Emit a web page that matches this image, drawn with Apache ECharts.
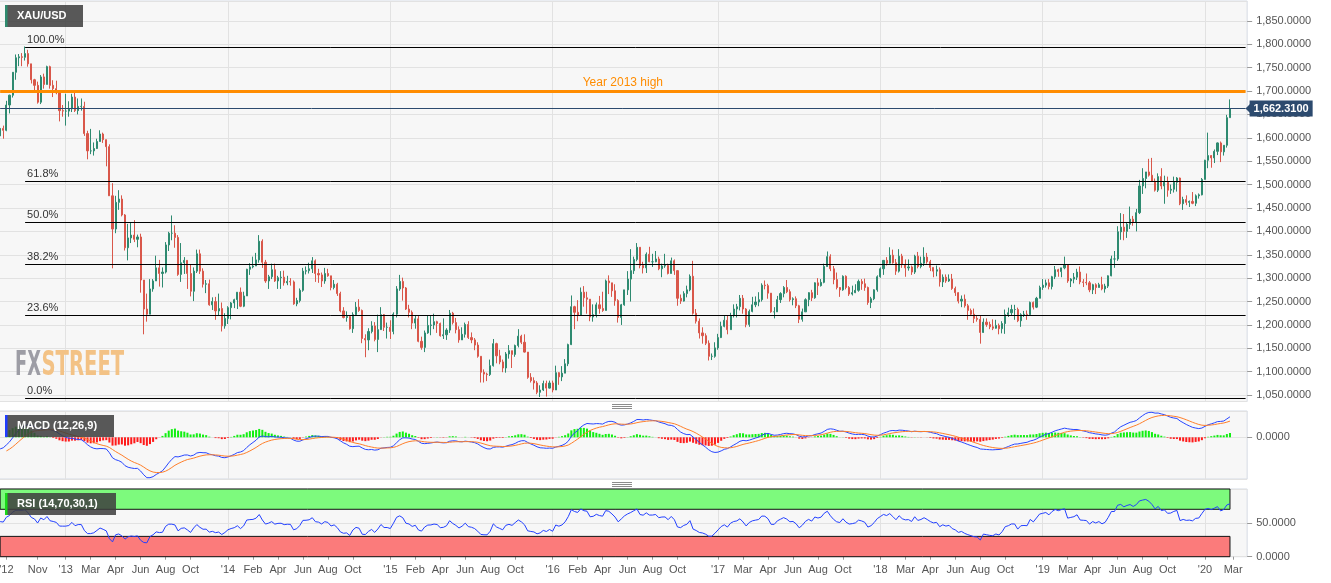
<!DOCTYPE html>
<html>
<head>
<meta charset="utf-8">
<title>XAU/USD weekly</title>
<script src="https://cdn.jsdelivr.net/npm/echarts@6/dist/echarts.min.js"></script>
<style>
html, body { margin: 0; padding: 0; background: #fff; }
#chart { width: 1331px; height: 583px; }
</style>
</head>
<body>
<div id="chart"></div>
<script>
// weekly closes Jan..Jul 2012, only used to warm up MACD / RSI
const warmupCloses = [1617, 1631, 1665, 1737, 1725, 1724, 1735, 1775, 1710, 1712, 1657, 1662, 1668, 1640, 1658, 1642,
  1663, 1643, 1580, 1592, 1572, 1622, 1591, 1627, 1572, 1598, 1579, 1590, 1582, 1619, 1604]

// weekly candles, first week = 6 Aug 2012, last = 24 Feb 2020 (open = previous close)
const closes = [
  1620, 1616, 1670, 1691, 1740, 1771, 1773, 1772, 1780, 1758, 1724, 1712, 1676, 1730, 1714, 1752, 1712, 1705, 1696, 1658, 1657,
  1657, 1662, 1687, 1658, 1667, 1667, 1609, 1572, 1572, 1577, 1592, 1608, 1596, 1581, 1476, 1405, 1462, 1469, 1435, 1365, 1386, 1392, 1383, 1388, 1296, 1234, 1223, 1277, 1294, 1322, 1310, 1313, 1371, 1396, 1396, 1387, 1308, 1333, 1338, 1310, 1272, 1315, 1352, 1315, 1287, 1288, 1243, 1250, 1230, 1235, 1198, 1214,
  1237, 1247, 1254, 1270, 1240, 1262, 1319, 1324, 1326, 1339, 1379, 1334, 1294, 1303, 1318, 1294, 1301, 1302, 1290, 1293, 1292, 1245, 1252, 1274, 1315, 1316, 1320, 1337, 1310, 1307, 1294, 1310, 1305, 1280, 1287, 1267, 1230, 1216, 1218, 1192, 1222, 1238, 1231, 1171, 1168, 1186, 1198, 1169, 1190, 1222, 1195, 1195,
  1186, 1223, 1277, 1293, 1279, 1234, 1227, 1204, 1213, 1165, 1152, 1183, 1199, 1200, 1207, 1203, 1177, 1179, 1189, 1225, 1205, 1190, 1168, 1180, 1201, 1173, 1168, 1157, 1133, 1099, 1095, 1094, 1113, 1160, 1134, 1121, 1108, 1138, 1145, 1137, 1156, 1176, 1163, 1142, 1088, 1081, 1076, 1056, 1061, 1075, 1065, 1076,
  1061, 1098, 1089, 1097, 1117, 1158, 1239, 1227, 1221, 1270, 1258, 1255, 1217, 1222, 1243, 1235, 1231, 1294, 1290, 1273, 1252, 1216, 1243, 1275, 1298, 1316, 1340, 1366, 1327, 1322, 1351, 1335, 1335, 1341, 1320, 1326, 1327, 1310, 1337, 1316, 1257, 1251, 1267, 1275, 1304, 1225, 1208, 1183, 1177, 1161, 1133, 1133, 1151,
  1173, 1197, 1210, 1190, 1220, 1234, 1239, 1257, 1234, 1201, 1229, 1243, 1249, 1254, 1285, 1284, 1268, 1228, 1228, 1254, 1267, 1280, 1271, 1254, 1256, 1241, 1212, 1228, 1254, 1269, 1258, 1290, 1284, 1291, 1325, 1346, 1320, 1297, 1280, 1275, 1304, 1280, 1266, 1269, 1274, 1293, 1288, 1280, 1248, 1256, 1275, 1303,
  1320, 1338, 1332, 1349, 1333, 1315, 1347, 1329, 1322, 1324, 1313, 1347, 1325, 1332, 1345, 1335, 1323, 1315, 1318, 1292, 1302, 1294, 1298, 1278, 1269, 1251, 1255, 1241, 1231, 1223, 1214, 1212, 1184, 1206, 1201, 1196, 1193, 1199, 1192, 1203, 1222, 1226, 1233, 1233, 1209, 1222, 1223, 1222, 1248, 1238, 1257, 1280,
  1285, 1290, 1282, 1303, 1318, 1314, 1322, 1328, 1294, 1298, 1302, 1313, 1292, 1291, 1290, 1275, 1286, 1280, 1286, 1277, 1283, 1305, 1341, 1341, 1399, 1409, 1400, 1415, 1426, 1419, 1440, 1497, 1513, 1527, 1520, 1507, 1488, 1517, 1497, 1505, 1488, 1490, 1505, 1514, 1459, 1468, 1462, 1464, 1460, 1476, 1478, 1511,
  1552, 1562, 1557, 1571, 1589, 1570, 1584, 1643, 1662.31
]
const highs = [
  1625, 1626, 1679, 1692, 1740, 1778, 1779, 1781, 1795, 1788, 1757, 1726, 1720, 1734, 1737, 1754, 1754, 1723, 1722, 1697, 1670,
  1694, 1678, 1694, 1696, 1684, 1684, 1677, 1615, 1619, 1590, 1598, 1616, 1611, 1588, 1586, 1503, 1476, 1488, 1477, 1437, 1416, 1419, 1424, 1393, 1395, 1292, 1267, 1298, 1298, 1348, 1339, 1323, 1377, 1399, 1434, 1413, 1392, 1375, 1345, 1338, 1329, 1323, 1361, 1361, 1321, 1296, 1297, 1259, 1260, 1267, 1248, 1225,
  1240, 1249, 1256, 1270, 1280, 1271, 1320, 1332, 1346, 1354, 1392, 1383, 1339, 1307, 1331, 1331, 1305, 1315, 1316, 1305, 1300, 1295, 1258, 1278, 1322, 1325, 1333, 1345, 1340, 1320, 1312, 1322, 1320, 1305, 1296, 1290, 1271, 1238, 1229, 1220, 1227, 1249, 1255, 1233, 1180, 1193, 1208, 1206, 1222, 1238, 1223, 1205,
  1210, 1227, 1283, 1307, 1301, 1281, 1243, 1231, 1220, 1219, 1175, 1188, 1220, 1220, 1224, 1209, 1205, 1214, 1193, 1232, 1228, 1215, 1197, 1195, 1205, 1208, 1184, 1172, 1163, 1131, 1105, 1098, 1126, 1170, 1162, 1147, 1126, 1142, 1157, 1142, 1158, 1191, 1179, 1180, 1142, 1097, 1088, 1080, 1071, 1081, 1081, 1081,
  1081, 1113, 1099, 1112, 1127, 1160, 1263, 1241, 1253, 1280, 1283, 1271, 1250, 1244, 1248, 1262, 1271, 1297, 1306, 1279, 1287, 1255, 1245, 1275, 1315, 1362, 1346, 1375, 1358, 1335, 1355, 1367, 1352, 1358, 1346, 1331, 1352, 1331, 1344, 1340, 1317, 1265, 1272, 1284, 1308, 1337, 1234, 1214, 1195, 1182, 1167, 1139, 1163,
  1181, 1207, 1219, 1220, 1226, 1244, 1245, 1264, 1264, 1236, 1233, 1260, 1261, 1270, 1289, 1295, 1288, 1268, 1238, 1262, 1270, 1283, 1296, 1276, 1259, 1261, 1243, 1235, 1257, 1270, 1275, 1291, 1300, 1298, 1331, 1357, 1351, 1326, 1312, 1281, 1306, 1306, 1283, 1284, 1287, 1297, 1298, 1299, 1282, 1260, 1276, 1306,
  1323, 1338, 1345, 1366, 1361, 1341, 1362, 1352, 1340, 1340, 1327, 1350, 1356, 1346, 1366, 1354, 1339, 1322, 1327, 1323, 1308, 1308, 1308, 1309, 1282, 1270, 1263, 1265, 1245, 1235, 1235, 1219, 1221, 1214, 1214, 1207, 1212, 1211, 1203, 1208, 1233, 1237, 1243, 1243, 1237, 1225, 1230, 1231, 1250, 1250, 1260, 1284,
  1298, 1297, 1298, 1305, 1326, 1320, 1322, 1346, 1330, 1300, 1311, 1320, 1325, 1298, 1310, 1294, 1288, 1289, 1290, 1303, 1288, 1306, 1348, 1358, 1411, 1439, 1437, 1419, 1453, 1433, 1448, 1510, 1535, 1527, 1555, 1557, 1513, 1524, 1535, 1519, 1517, 1500, 1517, 1516, 1515, 1474, 1477, 1466, 1484, 1479, 1481, 1514,
  1553, 1611, 1563, 1575, 1590, 1592, 1584, 1649, 1682
]
const lows = [
  1597, 1598, 1614, 1652, 1686, 1724, 1753, 1753, 1765, 1752, 1716, 1699, 1673, 1672, 1705, 1714, 1705, 1687, 1693, 1635, 1645,
  1626, 1645, 1655, 1655, 1650, 1658, 1604, 1554, 1565, 1562, 1576, 1594, 1589, 1539, 1476, 1321, 1396, 1446, 1432, 1359, 1338, 1375, 1377, 1366, 1269, 1180, 1207, 1226, 1271, 1306, 1282, 1280, 1310, 1358, 1381, 1365, 1305, 1292, 1309, 1277, 1261, 1251, 1311, 1309, 1280, 1268, 1241, 1232, 1211, 1221, 1186, 1192,
  1202, 1212, 1236, 1234, 1238, 1238, 1262, 1307, 1321, 1332, 1333, 1322, 1290, 1277, 1298, 1292, 1277, 1277, 1284, 1285, 1284, 1243, 1240, 1248, 1271, 1308, 1310, 1311, 1292, 1290, 1281, 1288, 1303, 1274, 1276, 1262, 1227, 1214, 1207, 1190, 1183, 1219, 1228, 1161, 1131, 1146, 1182, 1165, 1142, 1194, 1187, 1171,
  1170, 1180, 1216, 1273, 1252, 1232, 1216, 1191, 1192, 1163, 1147, 1142, 1181, 1178, 1191, 1183, 1175, 1170, 1168, 1183, 1201, 1182, 1162, 1171, 1173, 1170, 1161, 1146, 1130, 1077, 1077, 1080, 1091, 1111, 1118, 1116, 1099, 1098, 1128, 1108, 1132, 1152, 1159, 1141, 1085, 1077, 1062, 1052, 1046, 1059, 1047, 1064,
  1056, 1062, 1072, 1080, 1097, 1112, 1157, 1191, 1208, 1221, 1239, 1224, 1208, 1207, 1216, 1224, 1228, 1231, 1266, 1260, 1241, 1205, 1200, 1241, 1264, 1250, 1309, 1336, 1321, 1310, 1311, 1334, 1324, 1334, 1317, 1302, 1322, 1308, 1310, 1307, 1241, 1245, 1250, 1259, 1272, 1222, 1203, 1171, 1160, 1157, 1124, 1125, 1130,
  1147, 1172, 1195, 1180, 1191, 1216, 1216, 1231, 1224, 1195, 1196, 1227, 1238, 1240, 1250, 1276, 1256, 1226, 1214, 1228, 1247, 1259, 1268, 1250, 1242, 1236, 1204, 1207, 1230, 1240, 1251, 1256, 1264, 1282, 1289, 1324, 1315, 1287, 1276, 1260, 1273, 1276, 1262, 1263, 1268, 1271, 1275, 1273, 1243, 1236, 1253, 1271,
  1301, 1307, 1327, 1331, 1331, 1307, 1312, 1322, 1303, 1316, 1307, 1309, 1321, 1321, 1326, 1331, 1315, 1302, 1304, 1282, 1281, 1290, 1292, 1275, 1262, 1246, 1238, 1237, 1211, 1219, 1204, 1207, 1160, 1183, 1196, 1191, 1189, 1192, 1180, 1182, 1181, 1217, 1221, 1211, 1206, 1196, 1217, 1211, 1227, 1233, 1236, 1257,
  1275, 1280, 1276, 1276, 1298, 1303, 1302, 1319, 1290, 1281, 1289, 1296, 1287, 1281, 1285, 1270, 1266, 1266, 1280, 1274, 1269, 1279, 1304, 1322, 1337, 1382, 1381, 1386, 1405, 1412, 1400, 1437, 1480, 1492, 1517, 1506, 1485, 1484, 1490, 1459, 1474, 1480, 1483, 1485, 1456, 1446, 1456, 1452, 1458, 1454, 1470, 1477,
  1516, 1535, 1536, 1546, 1563, 1548, 1562, 1579, 1643
]

const lastPrice = 1662.31
const yearHigh2013 = 1699
const fibHigh = 1794
const fibLow = 1043
const fibLevels = [0, 23.6, 38.2, 50, 61.8, 100]
const fibStartWeek = 8

const yearWeeks = [21, 73, 125, 177, 230, 282, 334, 386]
const tickWeeks = [2, 12, 21, 29, 37, 45, 53, 61, 73, 81, 89, 97, 105, 113, 125, 133, 141, 149, 157, 165, 177, 185, 193, 201, 209, 217,
  230, 238, 246, 254, 262, 270, 282, 290, 298, 306, 314, 322, 334, 342, 350, 358, 366, 374, 386, 395]
const tickLabels = ["'12", 'Nov', "'13", 'Mar', 'Apr', 'Jun', 'Aug', 'Oct', "'14", 'Feb', 'Apr', 'Jun', 'Aug', 'Oct',
  "'15", 'Feb', 'Apr', 'Jun', 'Aug', 'Oct', "'16", 'Feb', 'Apr', 'Jun', 'Aug', 'Oct', "'17", 'Mar', 'Apr', 'Jun', 'Aug', 'Oct',
  "'18", 'Mar', 'Apr', 'Jun', 'Aug', 'Oct', "'19", 'Mar', 'Apr', 'Jun', 'Aug', 'Oct', "'20", 'Mar']

const UP = '#2e8a70'
const DOWN = '#d9574a'
const FONT = '"Liberation Sans", Arial, sans-serif'

// category axis: one slot per week, a few empty weeks on the right
const weekCount = 400
const startWeek = Date.UTC(2012, 7, 6)
const weeks = []
for (let i = 0; i < weekCount; i++) {
  weeks.push(new Date(startWeek + i * 7 * 864e5).toISOString().slice(0, 10))
}

const fmt = v => Number(v).toLocaleString('en-US', { minimumFractionDigits: 4, maximumFractionDigits: 4 })

const full = warmupCloses.concat(closes)
const off = warmupCloses.length
const candles = closes.map((c, i) => {
  const o = full[off + i - 1]
  return [o, c, Math.min(lows[i], o, c), Math.max(highs[i], o, c)]
})

const ema = (src, n) => {
  const out = new Array(src.length).fill(null)
  const first = src.findIndex(v => v != null)
  if (first < 0 || first + n > src.length) return out
  let sum = 0
  for (let i = first; i < first + n; i++) sum += src[i]
  let prev = sum / n
  out[first + n - 1] = prev
  const k = 2 / (n + 1)
  for (let i = first + n; i < src.length; i++) {
    prev = src[i] * k + prev * (1 - k)
    out[i] = prev
  }
  return out
}
const rsiCalc = (src, n) => {
  const out = new Array(src.length).fill(null)
  let gain = 0; let loss = 0
  for (let i = 1; i <= n; i++) {
    const d = src[i] - src[i - 1]
    if (d > 0) gain += d; else loss -= d
  }
  gain /= n; loss /= n
  out[n] = loss === 0 ? 100 : 100 - 100 / (1 + gain / loss)
  for (let i = n + 1; i < src.length; i++) {
    const d = src[i] - src[i - 1]
    gain = (gain * (n - 1) + Math.max(d, 0)) / n
    loss = (loss * (n - 1) + Math.max(-d, 0)) / n
    out[i] = loss === 0 ? 100 : 100 - 100 / (1 + gain / loss)
  }
  return out
}

const ema12 = ema(full, 12)
const ema26 = ema(full, 26)
const macdFull = full.map((v, i) => (ema12[i] != null && ema26[i] != null) ? ema12[i] - ema26[i] : null)
const signalFull = ema(macdFull, 9)
const histFull = macdFull.map((v, i) => (v != null && signalFull[i] != null) ? v - signalFull[i] : null)
const macdLine = macdFull.slice(off)
const signalLine = signalFull.slice(off)
const histBars = histFull.slice(off)
const rsiLine = rsiCalc(full, 14).slice(off)

const macdVals = macdLine.concat(signalLine, histBars).filter(v => v != null)
const macdMin = Math.min(...macdVals)
const macdMax = Math.max(...macdVals)
const macdPad = (macdMax - macdMin) * 0.02

const tickMap = {}
tickWeeks.forEach((w, i) => { tickMap[w] = tickLabels[i] })

const gridBase = { left: -1.41, right: 83.85, show: true, backgroundColor: '#f7f7f7', borderColor: '#d5dae4', borderWidth: 1, outerBoundsMode: 'none' }
const xBase = {
  type: 'category',
  data: weeks,
  boundaryGap: true,
  axisLine: { show: false },
  axisTick: { show: false },
  axisLabel: { show: false },
  splitLine: { show: false }
}
// vertical year lines, kept under the candles and the RSI bands
const yearLines = (xi, yi) => ({
  type: 'line',
  xAxisIndex: xi,
  yAxisIndex: yi,
  data: [],
  z: 1,
  silent: true,
  markLine: {
    z: 1,
    silent: true,
    symbol: ['none', 'none'],
    label: { show: false },
    lineStyle: { color: '#e2e2e2', width: 1, type: 'solid' },
    data: yearWeeks.map(w => ({ xAxis: weeks[w] }))
  }
})
const hLine = (value, fromWeek, style, label) => [
  { coord: [weeks[fromWeek], value], lineStyle: style, label },
  { coord: [weeks[weekCount - 1], value] }
]

const fibLines = fibLevels.map(p => hLine(fibLow + (fibHigh - fibLow) * p / 100, fibStartWeek,
  { color: '#000', width: 1, type: 'solid' },
  { show: true, position: 'insideStartTop', distance: 2, formatter: p.toFixed(1) + '%', color: '#333', fontSize: 11, fontFamily: FONT }))

const option = {
  animation: false,
  textStyle: { fontFamily: FONT },
  grid: [
    Object.assign({ top: 1, height: 400.5 }, gridBase),
    Object.assign({ top: 411, height: 68 }, gridBase),
    Object.assign({ top: 489, height: 67.7 }, gridBase)
  ],
  xAxis: [
    Object.assign({ gridIndex: 0 }, xBase),
    Object.assign({ gridIndex: 1 }, xBase),
    Object.assign({}, xBase, {
      gridIndex: 2,
      axisTick: { show: true, alignWithLabel: true, interval: i => tickMap[i] !== undefined, length: 3, lineStyle: { color: '#999' } },
      axisLabel: { show: true, interval: i => tickMap[i] !== undefined, formatter: (v, i) => tickMap[i] || '', color: '#555', fontSize: 11, margin: 8 }
    })
  ],
  yAxis: [
    {
      type: 'value',
      gridIndex: 0,
      position: 'right',
      min: 1036.4,
      max: 1892.3,
      splitNumber: 17,
      minInterval: 50,
      maxInterval: 50,
      axisLine: { show: false },
      axisTick: { show: true, length: 5, lineStyle: { color: '#999' } },
      axisLabel: { showMinLabel: false, showMaxLabel: false, margin: 9, color: '#555', fontSize: 11, formatter: fmt },
      splitLine: { lineStyle: { color: '#e2e2e2' } }
    },
    {
      type: 'value',
      gridIndex: 1,
      position: 'right',
      min: macdMin - macdPad,
      max: macdMax + macdPad,
      minInterval: 100000,
      maxInterval: 100000,
      axisLine: { show: false },
      axisTick: { show: true, length: 5, lineStyle: { color: '#999' } },
      axisLabel: { showMinLabel: false, showMaxLabel: false, margin: 9, color: '#555', fontSize: 11, formatter: fmt },
      splitLine: { lineStyle: { color: '#e2e2e2' } }
    },
    {
      type: 'value',
      gridIndex: 2,
      position: 'right',
      min: 0,
      max: 100,
      interval: 50,
      axisLine: { show: false },
      axisTick: { show: true, length: 5, lineStyle: { color: '#999' } },
      axisLabel: { showMaxLabel: false, margin: 9, color: '#555', fontSize: 11, formatter: fmt },
      splitLine: { lineStyle: { color: '#e2e2e2' } }
    }
  ],
  series: [
    yearLines(0, 0),
    {
      type: 'candlestick',
      name: 'XAU/USD',
      xAxisIndex: 0,
      yAxisIndex: 0,
      data: candles,
      barWidth: 1.6,
      itemStyle: { color: UP, color0: DOWN, borderColor: UP, borderColor0: DOWN, borderWidth: 1 },
      markLine: {
        silent: true,
        symbol: ['none', 'none'],
        data: fibLines.concat([
          hLine(yearHigh2013, 0, { color: '#ff8c00', width: 3, type: 'solid' },
            { show: true, position: 'insideMiddleTop', distance: 3, formatter: 'Year 2013 high', color: '#ff8c00', fontSize: 12, fontFamily: FONT }),
          hLine(lastPrice, 0, { color: '#2c4a6e', width: 1, type: 'solid' },
            { show: true, position: 'end', distance: 4, formatter: fmt(lastPrice), color: '#fff', backgroundColor: '#2c4a6e', padding: [3, 4, 2, 4], fontWeight: 'bold', fontSize: 11, fontFamily: FONT })
        ])
      }
    },
    yearLines(1, 1),
    {
      type: 'bar',
      name: 'hist',
      xAxisIndex: 1,
      yAxisIndex: 1,
      data: histBars,
      barWidth: '65%',
      itemStyle: { color: p => (p.value >= 0 ? '#11f011' : '#ff1a1a') }
    },
    {
      type: 'line',
      name: 'MACD',
      xAxisIndex: 1,
      yAxisIndex: 1,
      data: macdLine,
      showSymbol: false,
      z: 3,
      lineStyle: { color: '#2846ff', width: 1 }
    },
    {
      type: 'line',
      name: 'Signal',
      xAxisIndex: 1,
      yAxisIndex: 1,
      data: signalLine,
      showSymbol: false,
      z: 3,
      lineStyle: { color: '#ff7f2a', width: 1 }
    },
    yearLines(2, 2),
    {
      type: 'line',
      name: 'RSI',
      xAxisIndex: 2,
      yAxisIndex: 2,
      data: rsiLine,
      showSymbol: false,
      z: 3,
      lineStyle: { color: '#2240ff', width: 1 },
      markArea: {
        z: 2,
        silent: true,
        data: [
          [{ xAxis: weeks[0], yAxis: 70, itemStyle: { color: '#7dfa7d', borderColor: '#111', borderWidth: 1 } }, { xAxis: weeks[closes.length - 1], yAxis: 100 }],
          [{ xAxis: weeks[0], yAxis: 0, itemStyle: { color: '#fb7b7b', borderColor: '#111', borderWidth: 1 } }, { xAxis: weeks[closes.length - 1], yAxis: 30 }]
        ]
      }
    }
  ]
}

const tag = (y, w, label, stripe) => [
  { type: 'rect', silent: true, z: 20, shape: { x: 5, y: y, width: w, height: 22 }, style: { fill: 'rgba(62,62,62,0.86)' } },
  { type: 'rect', silent: true, z: 21, shape: { x: 5, y: y, width: 2.5, height: 22 }, style: { fill: stripe } },
  { type: 'text', silent: true, z: 21, x: 17, y: y + 11, style: { text: label, fill: '#fff', font: 'bold 11px ' + FONT, verticalAlign: 'middle' } }
]
const handle = y => [0, 2, 4].map(d => ({
  type: 'line', silent: true, z: 5, shape: { x1: 612, y1: y + d, x2: 632, y2: y + d }, style: { stroke: '#8c8c8c', lineWidth: 1 }
}))
const graphics = [].concat(
  tag(5, 78, 'XAU/USD', '#2e8b6e'),
  tag(415, 109, 'MACD (12,26,9)', '#1f3cff'),
  tag(493, 111, 'RSI (14,70,30,1)', '#19d919'),
  handle(404.5),
  handle(482.5),
  [
    { type: 'text', silent: true, z: 1, x: 15, y: 350, scaleX: 0.6, style: { text: 'FX', fill: '#9d9da5', font: 'bold 33px "DejaVu Sans Condensed", "Liberation Sans Narrow", sans-serif', verticalAlign: 'top' } },
    { type: 'text', silent: true, z: 1, x: 41.5, y: 350, scaleX: 0.66, style: { text: 'STREET', fill: '#f3c285', font: 'bold 33px "DejaVu Sans Condensed", "Liberation Sans Narrow", sans-serif', verticalAlign: 'top' } }
  ]
)

const chart = echarts.init(document.getElementById('chart'))
chart.setOption(option)
const py = chart.convertToPixel({ yAxisIndex: 0 }, lastPrice)
graphics.push({
  type: 'polygon', silent: true, z: 30,
  shape: { points: [[1245.5, py], [1250.5, py - 5], [1250.5, py + 5]] },
  style: { fill: '#2c4a6e' }
})
chart.setOption({ graphic: graphics })
</script>
</body>
</html>
